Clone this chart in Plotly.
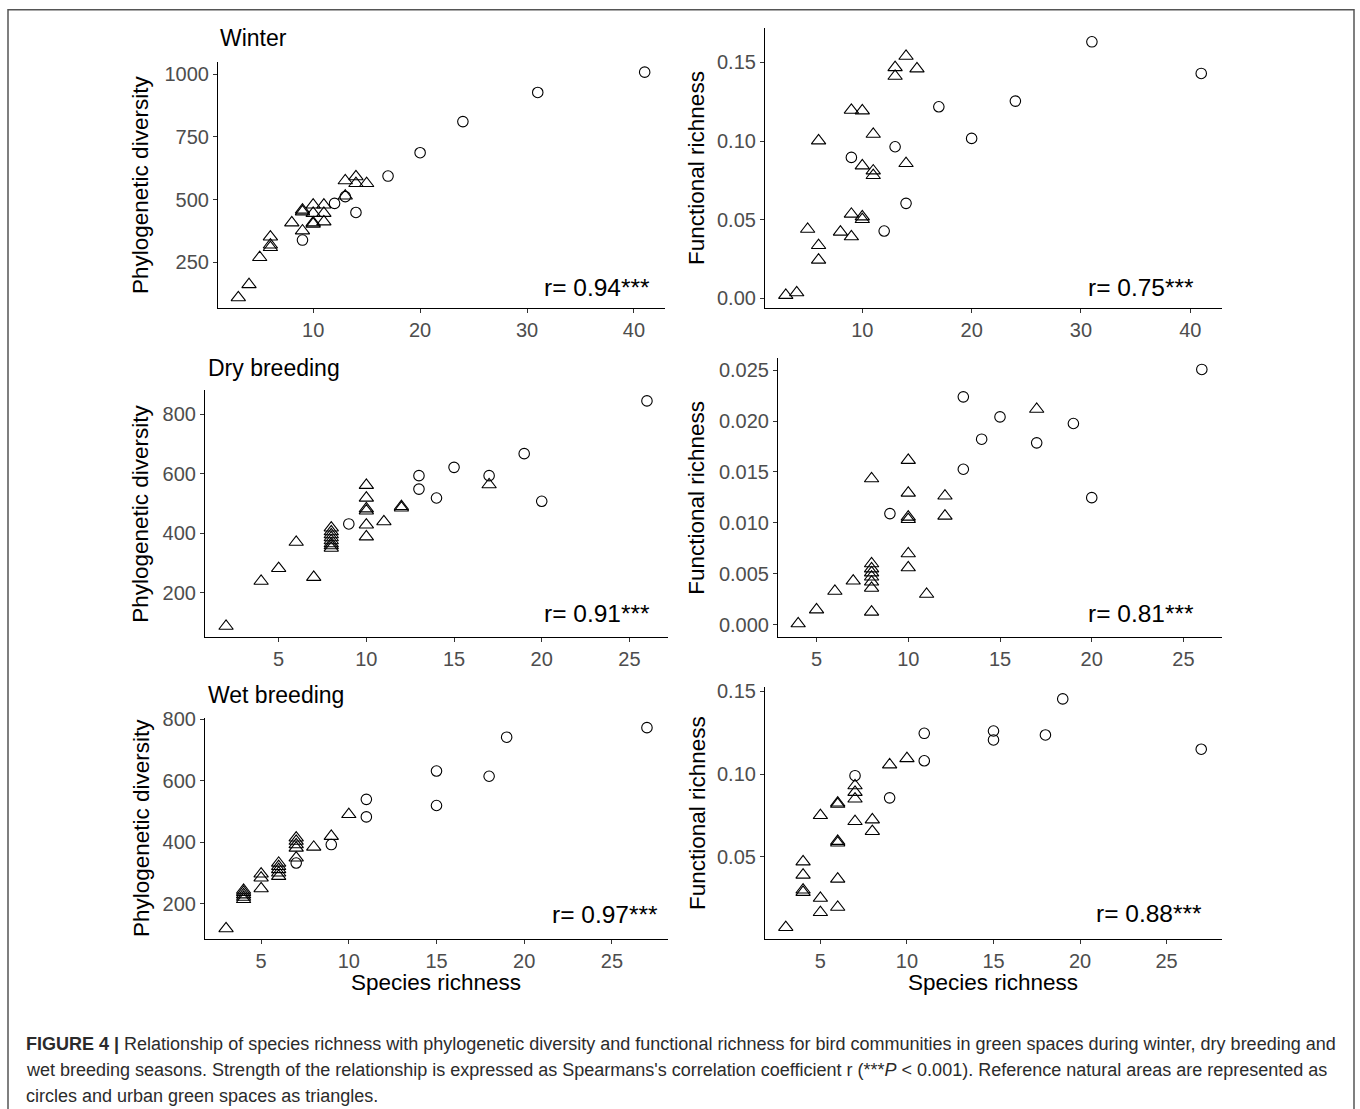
import plotly.graph_objects as go

W, H = 1360, 1109
FONT = "Liberation Sans, Arial, Helvetica, sans-serif"

# ---------------- DATA ----------------
# Winter
win_nat_pd_x = [41, 31, 24, 20, 17, 13, 14, 12, 9]
win_nat_pd_y = [1008, 927, 811, 687, 594, 512, 449, 485, 339]
win_urb_pd_x = [3, 4, 5, 6, 6, 6, 8, 9, 9, 9, 10, 10, 10, 10, 11, 11, 11, 13, 13, 14, 14, 15]
win_urb_pd_y = [110, 162, 270, 352, 320, 310, 408, 459, 452, 376, 479, 446, 408, 403,
                479, 446, 412, 576, 515, 592, 565, 565]
win_nat_fr_x = [31, 41, 24, 17, 20, 13, 9, 14, 12]
win_nat_fr_y = [0.1631, 0.143, 0.1254, 0.1218, 0.1017, 0.0964, 0.0896, 0.0604, 0.0428]
win_urb_fr_x = [3, 4, 5, 6, 6, 6, 8, 9, 9, 9, 10, 10, 10, 10, 11, 11, 11, 13, 13, 14, 14, 15]
win_urb_fr_y = [0.002, 0.0036, 0.044, 0.1002, 0.0337, 0.0244, 0.0422, 0.1197, 0.0536, 0.0392,
                0.1193, 0.0843, 0.0519, 0.0502, 0.1044, 0.0811, 0.0782, 0.1468, 0.1413,
                0.154, 0.0858, 0.146]

# Dry breeding
dry_nat_pd_x = [26, 19, 15, 13, 17, 13, 14, 20, 9]
dry_nat_pd_y = [844, 667, 621, 593, 593, 548, 518, 507, 431]
dry_urb_pd_x = [2, 4, 5, 6, 7, 8, 8, 8, 8, 8, 8, 8, 8, 10, 10, 10, 10, 10, 10, 11, 12, 12, 17]
dry_urb_pd_y = [88, 239, 282, 370, 252, 418, 405, 395, 385, 375, 365, 358, 350,
                561, 518, 482, 475, 428, 388, 439, 490, 485, 563]
dry_nat_fr_x = [26, 13, 15, 14, 19, 17, 13, 20, 9]
dry_nat_fr_y = [0.02507, 0.02238, 0.02041, 0.01822, 0.01976, 0.01786, 0.01527, 0.01248, 0.01091]
dry_urb_fr_x = [4, 5, 6, 7, 8, 8, 8, 8, 8, 8, 8, 8, 10, 10, 10, 10, 10, 10, 11, 12, 12, 17]
dry_urb_fr_y = [0.0001, 0.00147, 0.0033, 0.0043, 0.01435, 0.006, 0.0055, 0.0051, 0.0047,
                0.0042, 0.0036, 0.00125, 0.01615, 0.01294, 0.01058, 0.01035, 0.00698,
                0.0056, 0.003, 0.01265, 0.01068, 0.02117]

# Wet breeding
wet_nat_pd_x = [27, 19, 15, 18, 15, 11, 11, 9, 7]
wet_nat_pd_y = [773, 742, 632, 615, 520, 540, 483, 393, 333]
wet_urb_pd_x = [3, 4, 4, 4, 4, 4, 5, 5, 5, 6, 6, 6, 6, 6, 7, 7, 7, 7, 7, 8, 9, 10]
wet_urb_pd_y = [120, 245, 238, 230, 222, 215, 298, 285, 250, 333, 322, 312, 301, 290,
                415, 404, 393, 382, 350, 385, 420, 491]
wet_nat_fr_x = [19, 11, 15, 15, 18, 27, 11, 7, 9]
wet_nat_fr_y = [0.1454, 0.1246, 0.126, 0.1206, 0.1236, 0.115, 0.108, 0.099, 0.0856]
wet_urb_fr_x = [3, 4, 4, 4, 4, 5, 5, 5, 6, 6, 6, 6, 6, 6, 7, 7, 7, 7, 8, 8, 9, 10]
wet_urb_fr_y = [0.0074, 0.047, 0.039, 0.030, 0.0286, 0.075, 0.025, 0.0164, 0.0826, 0.0818,
                0.0594, 0.0584, 0.0366, 0.0196, 0.093, 0.089, 0.085, 0.0714, 0.0724,
                0.0654, 0.1056, 0.1094]

season_titles = ["Winter", "Dry breeding", "Wet breeding"]
r_labels = ["0.94", "0.75", "0.91", "0.81", "0.97", "0.88"]
y_titles = ["Phylogenetic diversity", "Functional richness"]
x_title = "Species richness"

# ---------------- LAYOUT HELPERS ----------------
def px(x):
    return x / W

def py(y):
    # vertical placement, calibrated against the rendered screenshot
    page = (y - 9.2) / 0.99
    return 1 - page / H

panels = [
    dict(xd=(218, 665), yd=(62, 308), xr=[1.1, 42.9], yr=[68, 1049],
         xt=[10, 20, 30, 40], yt=[250, 500, 750, 1000], yf="d",
         nat=(win_nat_pd_x, win_nat_pd_y), urb=(win_urb_pd_x, win_urb_pd_y),
         rpos=(652, 287)),
    dict(xd=(765, 1222), yd=(28, 308), xr=[1.1, 42.9], yr=[-0.0062, 0.172],
         xt=[10, 20, 30, 40], yt=[0, 0.05, 0.10, 0.15], yf=".2f",
         nat=(win_nat_fr_x, win_nat_fr_y), urb=(win_urb_fr_x, win_urb_fr_y),
         rpos=(1196, 287)),
    dict(xd=(205, 668), yd=(390, 637), xr=[0.8, 27.2], yr=[50, 880],
         xt=[5, 10, 15, 20, 25], yt=[200, 400, 600, 800], yf="d",
         nat=(dry_nat_pd_x, dry_nat_pd_y), urb=(dry_urb_pd_x, dry_urb_pd_y),
         rpos=(652, 613)),
    dict(xd=(778, 1222), yd=(358, 637), xr=[2.9, 27.1], yr=[-0.00125, 0.02618],
         xt=[5, 10, 15, 20, 25], yt=[0, 0.005, 0.010, 0.015, 0.020, 0.025], yf=".3f",
         nat=(dry_nat_fr_x, dry_nat_fr_y), urb=(dry_urb_fr_x, dry_urb_fr_y),
         rpos=(1196, 613)),
    dict(xd=(205, 668), yd=(717, 938), xr=[1.8, 28.2], yr=[87, 806],
         xt=[5, 10, 15, 20, 25], yt=[200, 400, 600, 800], yf="d",
         nat=(wet_nat_pd_x, wet_nat_pd_y), urb=(wet_urb_pd_x, wet_urb_pd_y),
         rpos=(660, 914)),
    dict(xd=(765, 1222), yd=(687, 938), xr=[1.8, 28.2], yr=[0.0005, 0.1523],
         xt=[5, 10, 15, 20, 25], yt=[0, 0.05, 0.10, 0.15], yf=".2f",
         nat=(wet_nat_fr_x, wet_nat_fr_y), urb=(wet_urb_fr_x, wet_urb_fr_y),
         rpos=(1204, 913)),
]

fig = go.Figure()
layout = dict(
    width=W, height=H, margin=dict(l=0, r=0, t=0, b=0),
    paper_bgcolor="white", plot_bgcolor="white", showlegend=False,
    font=dict(family=FONT, color="black"),
)
annotations = []

for i, p in enumerate(panels, start=1):
    xa = "x" if i == 1 else f"x{i}"
    ya = "y" if i == 1 else f"y{i}"
    fig.add_trace(go.Scatter(
        x=p["urb"][0], y=p["urb"][1], mode="markers", xaxis=xa, yaxis=ya,
        marker=dict(symbol="triangle-up-open", size=12.5, color="black",
                    line=dict(width=1.1, color="black")),
        hoverinfo="x+y"))
    fig.add_trace(go.Scatter(
        x=p["nat"][0], y=p["nat"][1], mode="markers", xaxis=xa, yaxis=ya,
        marker=dict(symbol="circle-open", size=10.5, color="black",
                    line=dict(width=1.1, color="black")),
        hoverinfo="x+y"))
    axcommon = dict(showline=True, linecolor="black", linewidth=1.1, ticks="outside",
                    ticklen=4, tickwidth=1, tickcolor="#333333", showgrid=False,
                    zeroline=False, tickfont=dict(size=20, color="#4d4d4d", family=FONT))
    layout["xaxis" if i == 1 else f"xaxis{i}"] = dict(
        domain=[px(p["xd"][0]), px(p["xd"][1])], range=p["xr"], anchor=ya,
        tickvals=p["xt"], **axcommon)
    ytxt = [format(v, p["yf"]) if p["yf"] != "d" else str(int(v)) for v in p["yt"]]
    layout["yaxis" if i == 1 else f"yaxis{i}"] = dict(
        domain=[py(p["yd"][1]), py(p["yd"][0])], range=p["yr"], anchor=xa,
        tickvals=p["yt"], ticktext=ytxt, **axcommon)
    annotations.append(dict(
        xref="paper", yref="paper", x=px(p["rpos"][0]), y=py(p["rpos"][1]),
        xanchor="right", yanchor="middle", showarrow=False,
        text=f"r= {r_labels[i-1]}***", font=dict(size=24.5, color="black")))
    col = (i - 1) % 2
    annotations.append(dict(
        xref="paper", yref="paper", x=px(141 if col == 0 else 697),
        y=py((p["yd"][0] + p["yd"][1]) / 2), xanchor="center", yanchor="middle",
        textangle=-90, showarrow=False, text=y_titles[col],
        font=dict(size=22.5, color="black")))

for txt, (x0, yc) in zip(season_titles, [(218, 38), (206, 368), (206, 695)]):
    annotations.append(dict(xref="paper", yref="paper", x=px(x0), y=py(yc),
                            xanchor="left", yanchor="middle", showarrow=False,
                            text=txt, font=dict(size=23, color="black")))
for xc in [436, 993]:
    annotations.append(dict(xref="paper", yref="paper", x=px(xc), y=py(982),
                            xanchor="center", yanchor="middle", showarrow=False,
                            text=x_title, font=dict(size=22.5, color="black")))

caption_lines = [
    "<b>FIGURE 4 |</b> Relationship of species richness with phylogenetic diversity and functional richness for bird communities in green spaces during winter, dry breeding and",
    "wet breeding seasons. Strength of the relationship is expressed as Spearmans's correlation coefficient r (***<i>P</i> &lt; 0.001). Reference natural areas are represented as",
    "circles and urban green spaces as triangles.",
]
for txt, yc in zip(caption_lines, [1043, 1069, 1095]):
    annotations.append(dict(xref="paper", yref="paper", x=px(25), y=py(yc),
                            xanchor="left", yanchor="middle", showarrow=False,
                            borderpad=0,
                            text=txt, font=dict(size=18, color="#2b2b2b")))

layout["annotations"] = annotations
layout["shapes"] = [dict(type="rect", xref="paper", yref="paper",
                         x0=px(8), x1=px(1354), y0=py(1130), y1=1 - 0.75 / H,
                         line=dict(color="#555555", width=1.5), fillcolor="rgba(0,0,0,0)")]
fig.update_layout(**layout)
# remove the browser's default page margin so the figure fills the window exactly
fig.write_html("out.html", config={"displayModeBar": False},
               post_script="document.body.style.margin='0';document.documentElement.style.overflow='hidden';")
